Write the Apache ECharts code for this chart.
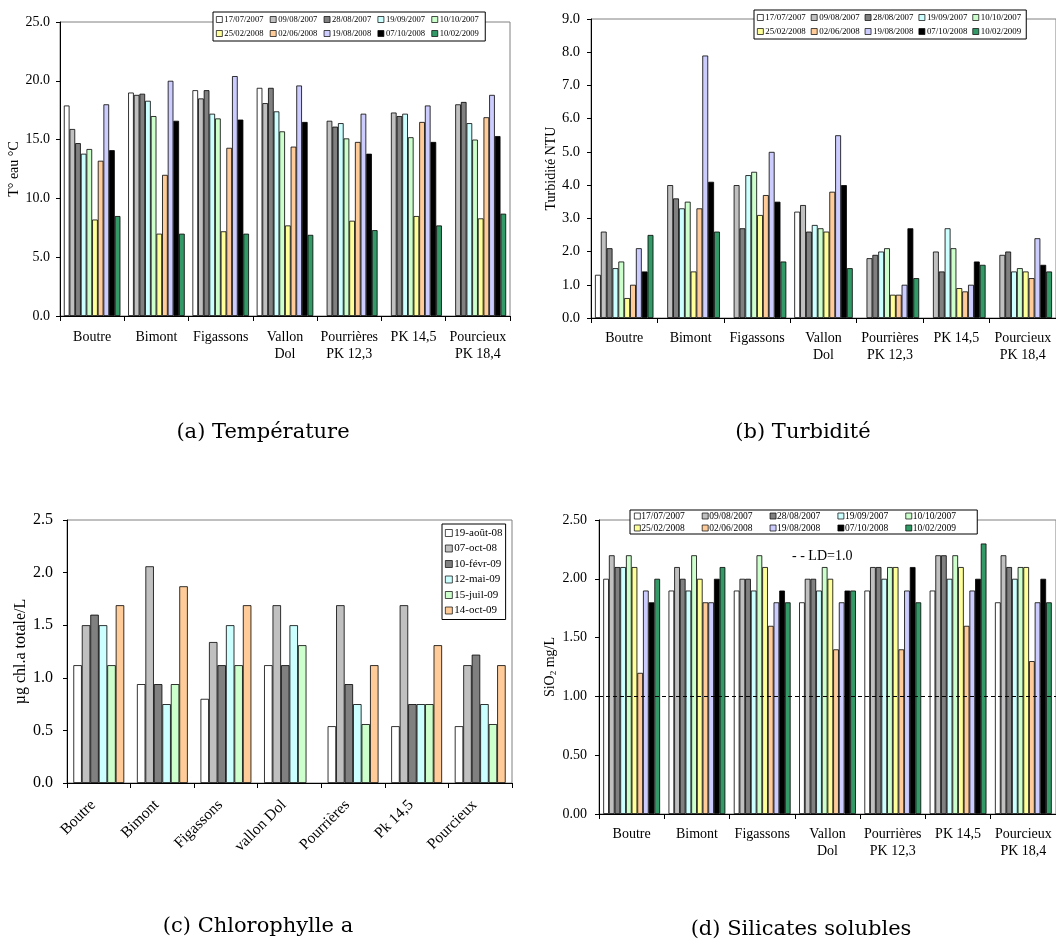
<!DOCTYPE html>
<html>
<head>
<meta charset="utf-8">
<script src="https://cdn.jsdelivr.net/npm/echarts@6/dist/echarts.min.js"></script>
<style>html,body{margin:0;padding:0;background:#fff}#c{width:1056px;height:945px}</style>
</head>
<body>
<div id="c"></div>
<script>
// ---------- categories ----------
const sites = ['Boutre', 'Bimont', 'Figassons', 'Vallon\nDol', 'Pourrières\nPK 12,3', 'PK 14,5', 'Pourcieux\nPK 18,4'];
const sitesChl = ['Boutre', 'Bimont', 'Figassons', 'vallon Dol', 'Pourrières', 'Pk 14,5', 'Pourcieux'];
const dates = ['17/07/2007', '09/08/2007', '28/08/2007', '19/09/2007', '10/10/2007',
               '25/02/2008', '02/06/2008', '19/08/2008', '07/10/2008', '10/02/2009'];
const datesChl = ['19-août-08', '07-oct-08', '10-févr-09', '12-mai-09', '15-juil-09', '14-oct-09'];

// ---------- tick labels ----------
const tempTicks = [0, 5, 10, 15, 20, 25];
const turbTicks = [0, 1, 2, 3, 4, 5, 6, 7, 8, 9];
const chlTicks = [0, 0.5, 1, 1.5, 2, 2.5];
const silTicks = [0, 0.5, 1, 1.5, 2, 2.5];

// ---------- (a) Température, T° eau °C ----------
const temp_17_07_2007 = [17.9, 19.0, 19.2, 19.4, null, null, null];
const temp_09_08_2007 = [15.9, 18.8, 18.5, 18.1, 16.6, 17.3, 18.0];
const temp_28_08_2007 = [14.7, 18.9, 19.2, 19.4, 16.1, 17.0, 18.2];
const temp_19_09_2007 = [13.8, 18.3, 17.2, 17.4, 16.4, 17.2, 16.4];
const temp_10_10_2007 = [14.2, 17.0, 16.8, 15.7, 15.1, 15.2, 15.0];
const temp_25_02_2008 = [8.2, 7.0, 7.2, 7.7, 8.1, 8.5, 8.3];
const temp_02_06_2008 = [13.2, 12.0, 14.3, 14.4, 14.8, 16.5, 16.9];
const temp_19_08_2008 = [18.0, 20.0, 20.4, 19.6, 17.2, 17.9, 18.8];
const temp_07_10_2008 = [14.1, 16.6, 16.7, 16.5, 13.8, 14.8, 15.3];
const temp_10_02_2009 = [8.5, 7.0, 7.0, 6.9, 7.3, 7.7, 8.7];

// ---------- (b) Turbidité NTU ----------
const turb_17_07_2007 = [1.3, null, null, 3.2, null, null, null];
const turb_09_08_2007 = [2.6, 4.0, 4.0, 3.4, 1.8, 2.0, 1.9];
const turb_28_08_2007 = [2.1, 3.6, 2.7, 2.6, 1.9, 1.4, 2.0];
const turb_19_09_2007 = [1.5, 3.3, 4.3, 2.8, 2.0, 2.7, 1.4];
const turb_10_10_2007 = [1.7, 3.5, 4.4, 2.7, 2.1, 2.1, 1.5];
const turb_25_02_2008 = [0.6, 1.4, 3.1, 2.6, 0.7, 0.9, 1.4];
const turb_02_06_2008 = [1.0, 3.3, 3.7, 3.8, 0.7, 0.8, 1.2];
const turb_19_08_2008 = [2.1, 7.9, 5.0, 5.5, 1.0, 1.0, 2.4];
const turb_07_10_2008 = [1.4, 4.1, 3.5, 4.0, 2.7, 1.7, 1.6];
const turb_10_02_2009 = [2.5, 2.6, 1.7, 1.5, 1.2, 1.6, 1.4];

// ---------- (c) Chlorophylle a, µg chl.a totale/L ----------
const chl_19_08_08 = [1.12, 0.94, 0.80, 1.12, 0.54, 0.54, 0.54];
const chl_07_10_08 = [1.50, 2.06, 1.34, 1.69, 1.69, 1.69, 1.12];
const chl_10_02_09 = [1.60, 0.94, 1.12, 1.12, 0.94, 0.75, 1.22];
const chl_12_05_09 = [1.50, 0.75, 1.50, 1.50, 0.75, 0.75, 0.75];
const chl_15_07_09 = [1.12, 0.94, 1.12, 1.31, 0.56, 0.75, 0.56];
const chl_14_10_09 = [1.69, 1.87, 1.69, null, 1.12, 1.31, 1.12];

// ---------- (d) Silicates solubles, SiO2 mg/L ----------
const sil_17_07_2007 = [2.0, 1.9, 1.9, 1.8, 1.9, 1.9, 1.8];
const sil_09_08_2007 = [2.2, 2.1, 2.0, 2.0, 2.1, 2.2, 2.2];
const sil_28_08_2007 = [2.1, 2.0, 2.0, 2.0, 2.1, 2.2, 2.1];
const sil_19_09_2007 = [2.1, 1.9, 1.9, 1.9, 2.0, 2.0, 2.0];
const sil_10_10_2007 = [2.2, 2.2, 2.2, 2.1, 2.1, 2.2, 2.1];
const sil_25_02_2008 = [2.1, 2.0, 2.1, 2.0, 2.1, 2.1, 2.1];
const sil_02_06_2008 = [1.2, 1.8, 1.6, 1.4, 1.4, 1.6, 1.3];
const sil_19_08_2008 = [1.9, 1.8, 1.8, 1.8, 1.9, 1.9, 1.8];
const sil_07_10_2008 = [1.8, 2.0, 1.9, 1.9, 2.1, 2.0, 2.0];
const sil_10_02_2009 = [2.0, 2.1, 1.8, 1.9, 1.8, 2.3, 1.8];
const detectionLimit = 1.0;

// ---------- styles ----------
const colors10 = ['#FFFFFF', '#C0C0C0', '#808080', '#CCFFFF', '#CCFFCC', '#FFFF99', '#FFCC99', '#CCCCFF', '#000000', '#339966'];
const colors6 = ['#FFFFFF', '#C0C0C0', '#808080', '#CCFFFF', '#CCFFCC', '#FFCC99'];
const F = '"Liberation Serif", "Times New Roman", serif';
const CAP = '"DejaVu Serif", serif';

const tempSeries = [temp_17_07_2007, temp_09_08_2007, temp_28_08_2007, temp_19_09_2007, temp_10_10_2007,
                    temp_25_02_2008, temp_02_06_2008, temp_19_08_2008, temp_07_10_2008, temp_10_02_2009];
const turbSeries = [turb_17_07_2007, turb_09_08_2007, turb_28_08_2007, turb_19_09_2007, turb_10_10_2007,
                    turb_25_02_2008, turb_02_06_2008, turb_19_08_2008, turb_07_10_2008, turb_10_02_2009];
const chlSeries = [chl_19_08_08, chl_07_10_08, chl_10_02_09, chl_12_05_09, chl_15_07_09, chl_14_10_09];
const silSeries = [sil_17_07_2007, sil_09_08_2007, sil_28_08_2007, sil_19_09_2007, sil_10_10_2007,
                   sil_25_02_2008, sil_02_06_2008, sil_19_08_2008, sil_07_10_2008, sil_10_02_2009];

function bars(names, arrays, colors, idx, catGap) {
  return names.map((n, i) => ({
    type: 'bar', name: n, xAxisIndex: idx, yAxisIndex: idx, data: arrays[i],
    barGap: '0%', barCategoryGap: catGap,
    itemStyle: { color: colors[i], borderColor: '#000', borderWidth: 0.8 },
    emphasis: { disabled: true }
  }));
}

function catAxis(idx, data, fontSize, margin, extra) {
  return {
    type: 'category', gridIndex: idx, data: data,
    axisLine: { lineStyle: { color: '#000', width: 1 } },
    axisTick: { show: true, length: 5, lineStyle: { color: '#000' } },
    axisLabel: Object.assign({ color: '#000', fontFamily: F, fontSize: fontSize, lineHeight: 17, margin: margin, interval: 0 }, extra || {}),
    splitLine: { show: false }
  };
}

function valAxis(idx, ticks, decimals, name, nameGap, fontSize, nameSize, margin, rich) {
  const step = ticks[1] - ticks[0];
  return {
    type: 'value', gridIndex: idx, min: ticks[0], max: ticks[ticks.length - 1], interval: step,
    axisLine: { show: true, lineStyle: { color: '#000', width: 1 } },
    axisTick: { show: true, length: 4, lineStyle: { color: '#000' } },
    axisLabel: { color: '#000', fontFamily: F, fontSize: fontSize, margin: margin, formatter: v => v.toFixed(decimals) },
    splitLine: { show: false },
    name: name, nameLocation: 'middle', nameGap: nameGap,
    nameTextStyle: Object.assign({ color: '#000', fontFamily: F, fontSize: nameSize }, rich ? { rich: rich } : {})
  };
}

function legend(names, opts) {
  return Object.assign({
    data: names, backgroundColor: '#fff', borderColor: '#000', borderWidth: 1, borderRadius: 0,
    icon: 'rect', selectedMode: false,
    itemStyle: { borderColor: '#000', borderWidth: 0.7 },
    textStyle: { color: '#000', fontFamily: F }
  }, opts);
}

const gridStyle = { show: true, borderColor: '#808080', borderWidth: 1, containLabel: false };

const option = {
  animation: false,
  backgroundColor: '#fff',
  grid: [
    Object.assign({ left: 60, top: 22, width: 450, height: 294 }, gridStyle),
    Object.assign({ left: 591, top: 19, width: 466, height: 299 }, gridStyle),
    Object.assign({ left: 67, top: 520, width: 445, height: 263 }, gridStyle),
    Object.assign({ left: 599, top: 520, width: 457, height: 294 }, gridStyle)
  ],
  xAxis: [
    catAxis(0, sites, 14, 13),
    catAxis(1, sites, 14, 12),
    catAxis(2, sitesChl, 15.5, 14, { rotate: 45, padding: [0, 8, 0, 0] }),
    catAxis(3, sites, 14, 12)
  ],
  yAxis: [
    valAxis(0, tempTicks, 1, 'T° eau °C', 36, 14, 14, 10),
    valAxis(1, turbTicks, 1, 'Turbidité NTU', 28, 14.5, 14, 11),
    valAxis(2, chlTicks, 1, 'µg chl.a totale/L', 37, 16, 16, 14),
    valAxis(3, silTicks, 2, 'SiO{s|2} mg/L', 36, 14, 14, 12,
      { s: { fontFamily: F, fontSize: 9, color: '#000', padding: [7, 0, 0, 0] } })
  ],
  legend: [
    legend(dates, { left: 213, top: 12, width: 280, padding: [2, 3], itemWidth: 6, itemHeight: 6, itemGap: 3,
      textStyle: { color: '#000', fontFamily: F, fontSize: 8.6, width: 42.5, lineHeight: 11, padding: [0, 0, 0, -3] } }),
    legend(dates, { left: 754, top: 10, width: 280, padding: [2, 3], itemWidth: 6, itemHeight: 6, itemGap: 3,
      textStyle: { color: '#000', fontFamily: F, fontSize: 8.9, width: 42.5, lineHeight: 11, padding: [0, 0, 0, -3] } }),
    legend(datesChl, { left: 442, top: 524, orient: 'vertical', padding: [3, 3], itemWidth: 7, itemHeight: 7, itemGap: 3.5,
      textStyle: { color: '#000', fontFamily: F, fontSize: 11, width: 45, lineHeight: 12, padding: [0, 0, 0, -3] } }),
    legend(dates, { left: 630, top: 510, width: 356, padding: [0, 4], itemWidth: 6, itemHeight: 6, itemGap: 0,
      textStyle: { color: '#000', fontFamily: F, fontSize: 9.5, width: 60.5, lineHeight: 12, padding: [0, 0, 0, -4] } })
  ],
  series: [].concat(
    bars(dates, tempSeries, colors10, 0, '12%'),
    bars(dates, turbSeries, colors10, 1, '12%'),
    bars(datesChl, chlSeries, colors6, 2, '20%'),
    bars(dates, silSeries, colors10, 3, '13%')
  ),
  graphic: [
    { type: 'text', left: 792, top: 549, style: { text: '- - LD=1.0', font: '14px ' + F, fill: '#000' } },
    { type: 'text', x: 263, y: 433, style: { text: '(a) Température', align: 'center', verticalAlign: 'middle', font: '21px ' + CAP, fill: '#000' } },
    { type: 'text', x: 803, y: 433, style: { text: '(b) Turbidité', align: 'center', verticalAlign: 'middle', font: '21px ' + CAP, fill: '#000' } },
    { type: 'text', x: 258, y: 927, style: { text: '(c) Chlorophylle a', align: 'center', verticalAlign: 'middle', font: '21px ' + CAP, fill: '#000' } },
    { type: 'text', x: 801, y: 930, style: { text: '(d) Silicates solubles', align: 'center', verticalAlign: 'middle', font: '21px ' + CAP, fill: '#000' } }
  ]
};

// LD detection limit dashed line on silicates panel
const silLast = option.series[option.series.length - 1];
silLast.markLine = {
  silent: true, symbol: 'none', label: { show: false },
  lineStyle: { color: '#000', type: [4, 3], width: 1 },
  data: [{ yAxis: detectionLimit }]
};

const chart = echarts.init(document.getElementById('c'), null, { renderer: 'canvas' });
chart.setOption(option);
</script>
</body>
</html>
